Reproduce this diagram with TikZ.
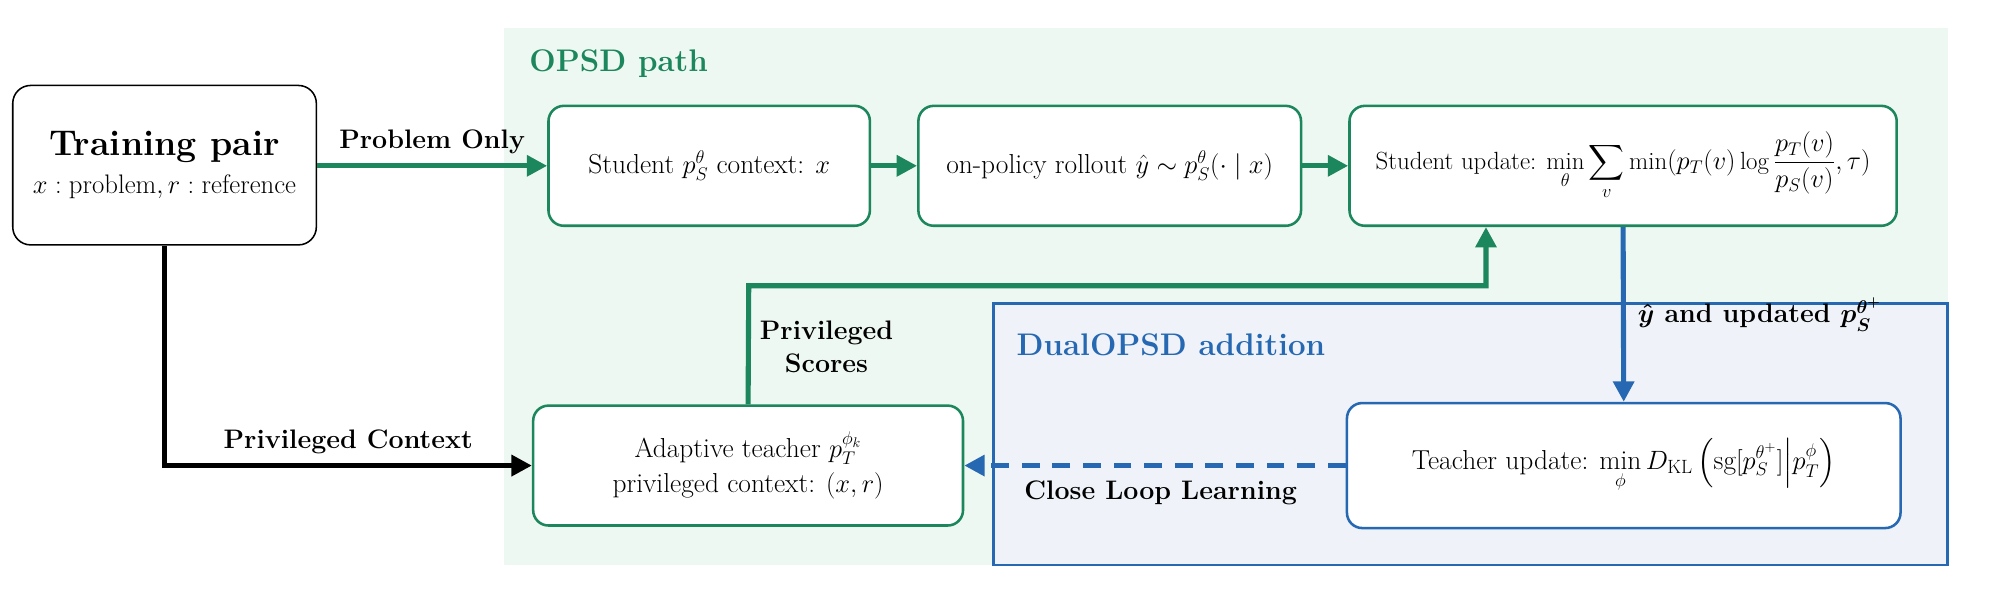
\documentclass[tikz,border=0pt]{standalone}
\usepackage{amsmath,amssymb}
\usepackage{fontspec}
\usetikzlibrary{arrows.meta}
\definecolor{gr}{RGB}{28,134,92}
\definecolor{grbg}{RGB}{238,248,242}
\definecolor{bl}{RGB}{38,104,178}
\definecolor{blbg}{RGB}{239,243,249}
\tikzset{
 box/.style={draw=#1,line width=2pt,rounded corners=12pt,fill=white,align=center,inner sep=4pt,text=black,font=\fontsize{21.5}{28}\selectfont},
 arr/.style={line width=4pt,-{Triangle[length=16pt,width=16pt]},#1},
 lab/.style={font=\bfseries\fontsize{21}{26}\selectfont,align=center,text=black},
}
\begin{document}
\begin{tikzpicture}[x=1pt,y=-1pt]
\useasboundingbox (0,0) rectangle (1568,478);
\fill[grbg] (395,22) rectangle (1527,443);
\draw[bl,line width=2pt,fill=blbg] (779,238) rectangle (1527,443);
\node[lab,text=gr,font=\bfseries\fontsize{24.5}{30}\selectfont] (t1) at (485,50) {OPSD path};
\node[lab,text=bl,font=\bfseries\fontsize{24.5}{30}\selectfont] (t2) at (918,270) {DualOPSD addition};
\node[draw=black,line width=1.2pt,rounded corners=14pt,fill=white,minimum width=238pt,minimum height=125pt,align=center] (tp) at (129,129.5)
 {{\bfseries\fontsize{28}{34}\selectfont Training pair}\\[8pt]{\fontsize{21}{26}\selectfont $x:\text{problem},r:\text{reference}$}};
\node[box=gr,minimum width=252pt,minimum height=94pt] (st) at (556,130) {Student $p_S^{\theta}$ context: $x$};
\node[box=gr,minimum width=300pt,minimum height=94pt] (ro) at (870,130) {on-policy rollout $\hat y\sim p_S^{\theta}(\cdot\mid x)$};
\node[box=gr,minimum width=429pt,minimum height=94pt,font=\fontsize{19.5}{24}\selectfont] (su) at (1272.5,130) {Student update: $\displaystyle\min_{\theta}\sum_{v}\min(p_T(v)\log\frac{p_T(v)}{p_S(v)},\tau)$};
\node[box=gr,minimum width=337pt,minimum height=94pt] (at) at (586.5,365) {Adaptive teacher $p_T^{\phi_k}$\\privileged context: $(x,r)$};
\node[box=bl,minimum width=434pt,minimum height=98pt] (tu) at (1273,365) {Teacher update: $\displaystyle\min_{\phi}D_{\mathrm{KL}}\left(\mathrm{sg}[p_S^{\theta^+}]\middle|p_T^{\phi}\right)$};
\draw[arr=gr] (tp.east|-st) -- node[lab,above=4pt]{Problem Only} (st.west);
\draw[arr=gr] (st) -- (ro);
\draw[arr=gr] (ro) -- (su);
\draw[arr=black] (tp.south) |- node[lab,pos=0.75,above=4pt]{Privileged Context} (at.west);
\coordinate (c1) at (587,224);
\coordinate (c2) at (1165,224);
\draw[arr=gr] (at.north) -- (c1) -- (c2) -- (c2|-su.south);
\node[lab] (ps) at (648,272) {Privileged\\Scores};
\draw[arr=bl] (su.south) -- node[lab,right=6pt]{$\boldsymbol{\hat y}$ and updated $\boldsymbol{p_S^{\theta^+}}$} (tu.north);
\draw[arr=bl,dashed,dash pattern=on 14pt off 10pt] (tu.west) -- (at.east);
\node[lab] (cl) at (910,386) {Close Loop Learning};
\end{tikzpicture}
\end{document}
